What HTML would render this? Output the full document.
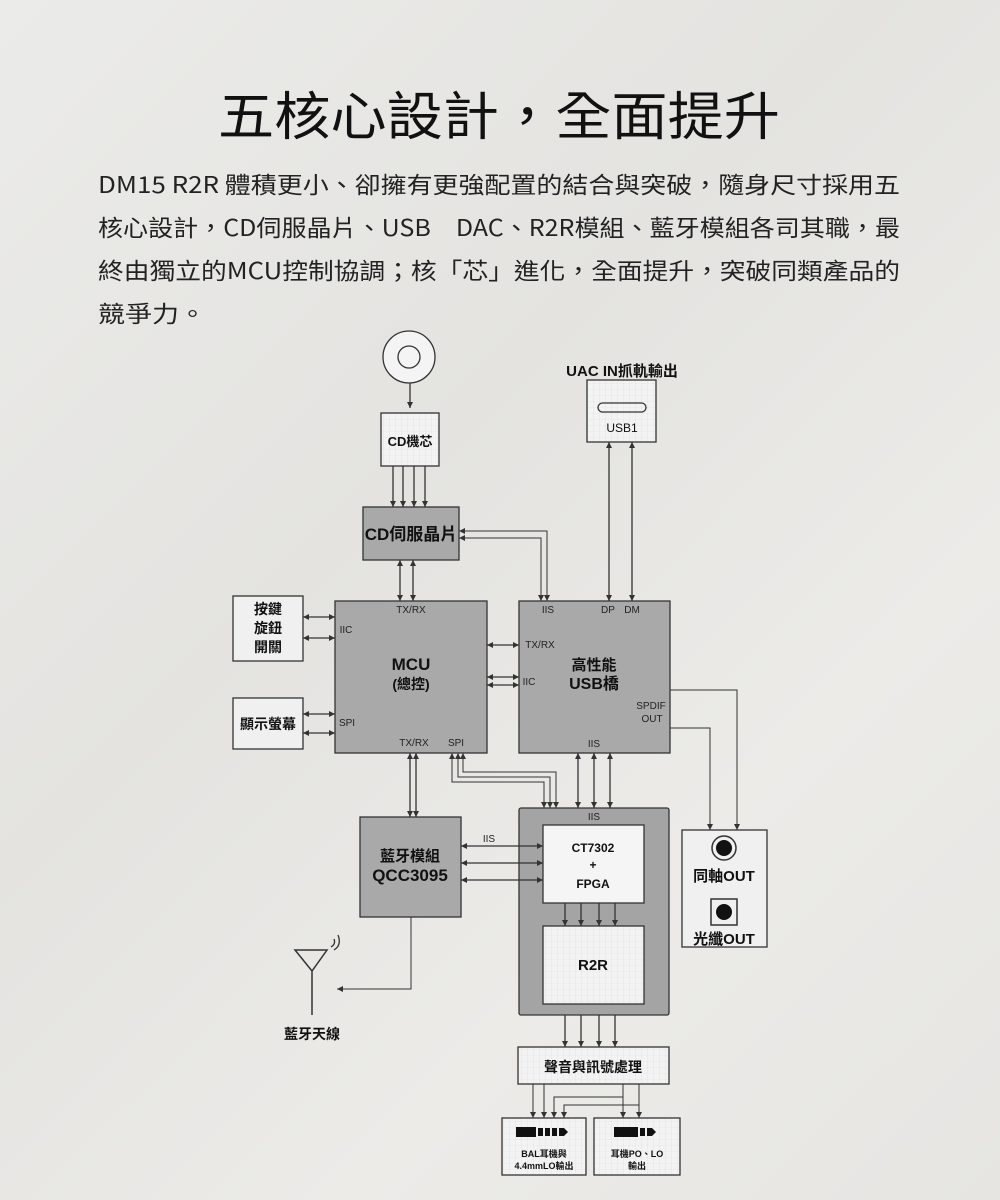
<!DOCTYPE html>
<html><head><meta charset="utf-8"><style>
html,body{margin:0;padding:0}
body{width:1000px;height:1200px;overflow:hidden;background:linear-gradient(135deg,#ebebe9 0%,#e4e3e0 40%,#ecebe8 70%,#e6e5e2 100%)}
svg{display:block}
text{font-family:"Liberation Sans","Noto Sans CJK TC",sans-serif}
.p text{font-family:"Noto Sans CJK TC",sans-serif}
</style></head><body>
<svg width="1000" height="1200" viewBox="0 0 1000 1200" xmlns="http://www.w3.org/2000/svg">
<defs>
<marker id="a" viewBox="0 0 6 6" refX="6" refY="3" markerWidth="6" markerHeight="6" markerUnits="userSpaceOnUse" orient="auto-start-reverse"><path d="M0,0L6,3L0,6z" fill="#333"/></marker>
<pattern id="g" width="6" height="6" patternUnits="userSpaceOnUse"><rect width="6" height="6" fill="#f3f3f3"/><path d="M6,0V6H0" fill="none" stroke="#ddd" stroke-width="0.6"/></pattern>
</defs>
<g fill="#111" class="p">
<text x="218" y="135" font-size="52" textLength="562" lengthAdjust="spacingAndGlyphs">五核心設計，全面提升</text>
<g font-size="23" fill="#222">
<text x="98" y="193" textLength="802" lengthAdjust="spacingAndGlyphs">DM15 R2R 體積更小、卻擁有更強配置的結合與突破，隨身尺寸採用五</text>
<text x="98" y="236" textLength="802" lengthAdjust="spacingAndGlyphs">核心設計，CD伺服晶片、USB　DAC、R2R模組、藍牙模組各司其職，最</text>
<text x="98" y="279" textLength="802" lengthAdjust="spacingAndGlyphs">終由獨立的MCU控制協調；核「芯」進化，全面提升，突破同類產品的</text>
<text x="98" y="322" textLength="108" lengthAdjust="spacingAndGlyphs">競爭力。</text>
</g>
</g>
<g stroke="#333" stroke-width="1.3" fill="none">
<circle cx="409" cy="357" r="26" fill="#f4f4f4"/>
<circle cx="409" cy="357" r="11"/>
<path d="M410 383V408" marker-end="url(#a)"/>
<rect x="381" y="413" width="58" height="53" fill="url(#g)"/>
<rect x="363" y="507" width="96" height="53" fill="#a9a9a9"/>
<rect x="587" y="380" width="69" height="62" fill="url(#g)"/>
<rect x="598" y="403" width="48" height="9" rx="4.5"/>
<rect x="335" y="601" width="152" height="152" fill="#a9a9a9"/>
<rect x="519" y="601" width="151" height="152" fill="#a9a9a9"/>
<rect x="233" y="596" width="70" height="65" fill="#f0f0f0"/>
<rect x="233" y="698" width="70" height="51" fill="#f0f0f0"/>
<rect x="519" y="808" width="150" height="207" fill="#a4a4a4" rx="2"/>
<rect x="543" y="825" width="101" height="78" fill="#f5f5f5"/>
<rect x="543" y="926" width="101" height="78" fill="url(#g)"/>
<rect x="360" y="817" width="101" height="100" fill="#a9a9a9"/>
<rect x="682" y="830" width="85" height="117" fill="#f0f0f0"/>
<rect x="518" y="1047" width="151" height="37" fill="url(#g)"/>
<rect x="502" y="1118" width="84" height="57" fill="url(#g)"/>
<rect x="594" y="1118" width="86" height="57" fill="url(#g)"/>
</g>
<g stroke="#333" stroke-width="1.3" fill="none" marker-end="url(#a)">
<path d="M393 466V507"/><path d="M403 466V507"/><path d="M414 466V507"/><path d="M425 466V507"/>
<path d="M670 690H737V830" stroke-width="1"/><path d="M670 728H710V830" stroke-width="1"/>
<path d="M565 903V926"/><path d="M581 903V926"/><path d="M599 903V926"/><path d="M615 903V926"/>
<path d="M565 1015V1047"/><path d="M581 1015V1047"/><path d="M599 1015V1047"/><path d="M615 1015V1047"/>
<path d="M533 1084V1118" stroke-width="1"/><path d="M544 1084V1118" stroke-width="1"/>
<path d="M623 1084V1118" stroke-width="1"/><path d="M639 1084V1118" stroke-width="1"/>
<path d="M623 1097H554V1118" stroke-width="1"/><path d="M639 1105H564V1118" stroke-width="1"/>
<path d="M411 917V989H337" stroke-width="1"/>
</g>
<g stroke="#333" stroke-width="1.3" fill="none" marker-start="url(#a)" marker-end="url(#a)">
<path d="M400 560V601"/><path d="M413 560V601"/>
<path d="M459 531H547V601" stroke-width="1"/><path d="M459 538H541V601" stroke-width="1"/>
<path d="M609 442V601"/><path d="M632 442V601"/>
<path d="M303 617H335"/><path d="M303 638H335"/><path d="M303 714H335"/><path d="M303 733H335"/>
<path d="M487 645H519"/><path d="M487 677H519"/><path d="M487 685H519"/>
<path d="M410 753V817"/><path d="M416 753V817"/>
<path d="M452 753V782H544V808" stroke-width="1"/><path d="M458 753V777H550V808" stroke-width="1"/><path d="M463 753V772H556V808" stroke-width="1"/>
<path d="M578 753V808"/><path d="M594 753V808"/><path d="M610 753V808"/>
<path d="M461 846H543"/><path d="M461 863H543"/><path d="M461 880H543"/>
</g>
<g stroke="#333" fill="none">
<path d="M295 950H327L312 971ZM312 971V1015" stroke-width="1.5"/>
<path d="M331 947Q336 944 334 939M334 950Q342 945 338 935" stroke-width="1.3"/>
<circle cx="724" cy="848" r="12" stroke-width="1.5"/>
<rect x="711" y="899" width="26" height="26" stroke-width="1.5"/>
</g>
<circle cx="724" cy="848" r="8" fill="#111"/>
<circle cx="724" cy="912" r="8" fill="#111"/>
<g fill="#111">
<rect x="516" y="1127" width="20" height="10"/><rect x="538" y="1128" width="5" height="8"/><rect x="545" y="1128" width="5" height="8"/><rect x="552" y="1128" width="5" height="8"/><path d="M559 1128h5l4 4-4 4h-5z"/>
<rect x="614" y="1127" width="24" height="10"/><rect x="640" y="1128" width="5" height="8"/><path d="M647 1128h5l4 4-4 4h-5z"/>
</g>
<g fill="#111" font-weight="bold" text-anchor="middle">
<text x="410" y="446" font-size="13">CD機芯</text>
<text x="411" y="540" font-size="17">CD伺服晶片</text>
<text x="622" y="376" font-size="15">UAC IN抓軌輸出</text>
<text x="622" y="432" font-size="12" font-weight="normal">USB1</text>
<text x="268" y="614" font-size="14">按鍵</text>
<text x="268" y="633" font-size="14">旋鈕</text>
<text x="268" y="652" font-size="14">開關</text>
<text x="268" y="729" font-size="14">顯示螢幕</text>
<text x="411" y="670" font-size="17">MCU</text>
<text x="411" y="689" font-size="14">(總控)</text>
<text x="594" y="670" font-size="15">高性能</text>
<text x="594" y="689" font-size="16">USB橋</text>
<text x="410" y="861" font-size="15">藍牙模組</text>
<text x="410" y="881" font-size="17">QCC3095</text>
<text x="593" y="852" font-size="12">CT7302</text>
<text x="593" y="869" font-size="12">+</text>
<text x="593" y="888" font-size="12">FPGA</text>
<text x="593" y="970" font-size="15">R2R</text>
<text x="724" y="881" font-size="15">同軸OUT</text>
<text x="724" y="944" font-size="15">光纖OUT</text>
<text x="312" y="1039" font-size="14">藍牙天線</text>
<text x="593" y="1072" font-size="14">聲音與訊號處理</text>
<text x="544" y="1157" font-size="9">BAL耳機與</text>
<text x="544" y="1169" font-size="9">4.4mmLO輸出</text>
<text x="637" y="1157" font-size="9">耳機PO、LO</text>
<text x="637" y="1169" font-size="9">輸出</text>
</g>
<g fill="#222" font-size="10" text-anchor="middle">
<text x="411" y="613">TX/RX</text>
<text x="346" y="633">IIC</text>
<text x="347" y="726">SPI</text>
<text x="414" y="746">TX/RX</text>
<text x="456" y="746">SPI</text>
<text x="548" y="613">IIS</text>
<text x="608" y="613">DP</text>
<text x="632" y="613">DM</text>
<text x="540" y="648">TX/RX</text>
<text x="529" y="685">IIC</text>
<text x="651" y="709">SPDIF</text>
<text x="652" y="722">OUT</text>
<text x="594" y="747">IIS</text>
<text x="594" y="820">IIS</text>
<text x="489" y="842">IIS</text>
</g>
</svg>
</body></html>
